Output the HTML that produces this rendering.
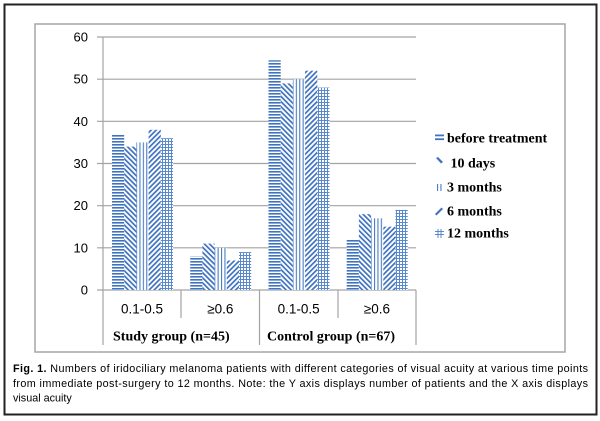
<!DOCTYPE html>
<html>
<head>
<meta charset="utf-8">
<style>
html,body{margin:0;padding:0;background:#fff;}
svg{display:block;}
</style>
</head>
<body>
<svg width="600" height="421" viewBox="0 0 600 421" xmlns="http://www.w3.org/2000/svg">
<defs>
  <pattern id="ph" patternUnits="userSpaceOnUse" width="4" height="3">
    <rect x="0" y="0" width="4" height="3" fill="#fff"/>
    <rect x="0" y="0" width="4" height="1.6" fill="#3f73c0"/>
  </pattern>
  <pattern id="pd" patternUnits="userSpaceOnUse" width="3.6" height="6" patternTransform="rotate(-45)">
    <rect x="0" y="0" width="3.6" height="6" fill="#fff"/>
    <rect x="0" y="0" width="1.7" height="6" fill="#3f73c0"/>
  </pattern>
  <pattern id="pu" patternUnits="userSpaceOnUse" width="3.6" height="6" patternTransform="rotate(45)">
    <rect x="0" y="0" width="3.6" height="6" fill="#fff"/>
    <rect x="0" y="0" width="1.7" height="6" fill="#3f73c0"/>
  </pattern>
  <pattern id="pv" patternUnits="userSpaceOnUse" width="3.4" height="4">
    <rect x="0" y="0" width="3.4" height="4" fill="#fff"/>
    <rect x="0" y="0" width="1.1" height="4" fill="#4a7dc4"/>
  </pattern>
  <pattern id="pg" patternUnits="userSpaceOnUse" width="3" height="3">
    <rect x="0" y="0" width="3" height="3" fill="#fff"/>
    <rect x="0" y="0" width="1" height="3" fill="#5a88cc"/>
    <rect x="0" y="0" width="3" height="1" fill="#5a88cc"/>
  </pattern>
</defs>

<!-- outer border -->
<rect x="4.5" y="4.5" width="592" height="410" fill="#fff" stroke="#222" stroke-width="2"/>
<!-- inner chart border -->
<rect x="35" y="24" width="530" height="328" fill="#fff" stroke="#a6a6a6" stroke-width="1.5"/>

<!-- gridlines -->
<g stroke="#a3a3a3" stroke-width="1.2">
  <line x1="97" y1="37" x2="416" y2="37"/>
  <line x1="97" y1="79.2" x2="416" y2="79.2"/>
  <line x1="97" y1="121.3" x2="416" y2="121.3"/>
  <line x1="97" y1="163.5" x2="416" y2="163.5"/>
  <line x1="97" y1="205.7" x2="416" y2="205.7"/>
  <line x1="97" y1="247.8" x2="416" y2="247.8"/>
  <line x1="97" y1="290" x2="416" y2="290"/>
  <line x1="103" y1="37" x2="103" y2="345"/>
  <line x1="181" y1="290" x2="181" y2="318"/>
  <line x1="259.5" y1="290" x2="259.5" y2="345"/>
  <line x1="338" y1="290" x2="338" y2="318"/>
  <line x1="416" y1="290" x2="416" y2="345"/>
</g>

<!-- y labels -->
<g font-family="Liberation Sans, Arial, sans-serif" font-size="13" fill="#000" text-anchor="end">
  <text x="88" y="41.5">60</text>
  <text x="88" y="83.7">50</text>
  <text x="88" y="125.8">40</text>
  <text x="88" y="168">30</text>
  <text x="88" y="210.2">20</text>
  <text x="88" y="252.3">10</text>
  <text x="88" y="294.5">0</text>
</g>

<!-- bars: category 1 -->
<g>
  <rect x="112" y="134.0" width="12.2" height="156.0" fill="url(#ph)"/>
  <rect x="124.2" y="146.6" width="12.2" height="143.4" fill="url(#pd)"/>
  <rect x="136.4" y="142.4" width="12.2" height="147.6" fill="url(#pv)"/>
  <rect x="148.6" y="129.8" width="12.2" height="160.2" fill="url(#pu)"/>
  <rect x="160.8" y="138.2" width="12.2" height="151.8" fill="url(#pg)"/>
</g>
<!-- category 2 -->
<g>
  <rect x="190.2" y="256.3" width="12.2" height="33.7" fill="url(#ph)"/>
  <rect x="202.4" y="243.6" width="12.2" height="46.4" fill="url(#pd)"/>
  <rect x="214.6" y="247.8" width="12.2" height="42.2" fill="url(#pv)"/>
  <rect x="226.8" y="260.5" width="12.2" height="29.5" fill="url(#pu)"/>
  <rect x="239.0" y="252.1" width="12.2" height="37.9" fill="url(#pg)"/>
</g>
<!-- category 3 -->
<g>
  <rect x="268.5" y="60.3" width="12.2" height="229.7" fill="url(#ph)"/>
  <rect x="280.7" y="83.4" width="12.2" height="206.6" fill="url(#pd)"/>
  <rect x="292.9" y="79.2" width="12.2" height="210.8" fill="url(#pv)"/>
  <rect x="305.1" y="70.7" width="12.2" height="219.3" fill="url(#pu)"/>
  <rect x="317.3" y="87.6" width="12.2" height="202.4" fill="url(#pg)"/>
</g>
<!-- category 4 -->
<g>
  <rect x="346.7" y="239.4" width="12.2" height="50.6" fill="url(#ph)"/>
  <rect x="358.9" y="214.1" width="12.2" height="75.9" fill="url(#pd)"/>
  <rect x="371.1" y="218.3" width="12.2" height="71.7" fill="url(#pv)"/>
  <rect x="383.3" y="226.7" width="12.2" height="63.3" fill="url(#pu)"/>
  <rect x="395.5" y="209.9" width="12.2" height="80.1" fill="url(#pg)"/>
</g>

<!-- category labels -->
<g font-family="Liberation Sans, Arial, sans-serif" font-size="13.5" fill="#000" text-anchor="middle">
  <text x="142" y="313.5">0.1-0.5</text>
  <text x="220.3" y="313.5">≥0.6</text>
  <text x="298.6" y="313.5">0.1-0.5</text>
  <text x="376.9" y="313.5">≥0.6</text>
</g>
<g font-family="Liberation Serif, Times New Roman, serif" font-size="14" font-weight="bold" fill="#000">
  <text x="113" y="340.5">Study group (n=45)</text>
  <text x="267" y="340.5">Control group (n=67)</text>
</g>

<!-- legend -->
<g>
  <rect x="435" y="134.5" width="9" height="1.8" fill="#3f73c0"/>
  <rect x="435" y="138.3" width="9" height="1.8" fill="#3f73c0"/>
  <polygon points="436,158 438,157 443,162 441,163.5" fill="#3f73c0"/>
  <rect x="437" y="184" width="1.1" height="7" fill="#4a7dc4"/>
  <rect x="440.4" y="184" width="1.1" height="7" fill="#4a7dc4"/>
  <polygon points="435,214 436.5,215.5 443,209 441.5,207.5" fill="#3f73c0"/>
  <g stroke="#5a88cc" stroke-width="1">
    <line x1="438" y1="229" x2="438" y2="238"/>
    <line x1="441" y1="229" x2="441" y2="238"/>
    <line x1="435" y1="231.5" x2="444" y2="231.5"/>
    <line x1="435" y1="234.5" x2="444" y2="234.5"/>
  </g>
</g>
<g font-family="Liberation Serif, Times New Roman, serif" font-size="14" font-weight="bold" fill="#000">
  <text x="447" y="142.5">before treatment</text>
  <text x="447" y="167.5" xml:space="preserve"> 10 days</text>
  <text x="447" y="191.5">3 months</text>
  <text x="447" y="215.5">6 months</text>
  <text x="447" y="237.5">12 months</text>
</g>

<!-- caption -->
<g font-family="Liberation Sans, Arial, sans-serif" font-size="10.8" fill="#000">
  <text x="13" y="372" textLength="575" lengthAdjust="spacing"><tspan font-weight="bold">Fig. 1.</tspan> Numbers of iridociliary melanoma patients with different categories of visual acuity at various time points</text>
  <text x="13" y="387" textLength="575" lengthAdjust="spacing">from immediate post-surgery to 12 months. Note: the Y axis displays number of patients and the X axis displays</text>
  <text x="13" y="401.5">visual acuity</text>
</g>
</svg>
</body>
</html>
